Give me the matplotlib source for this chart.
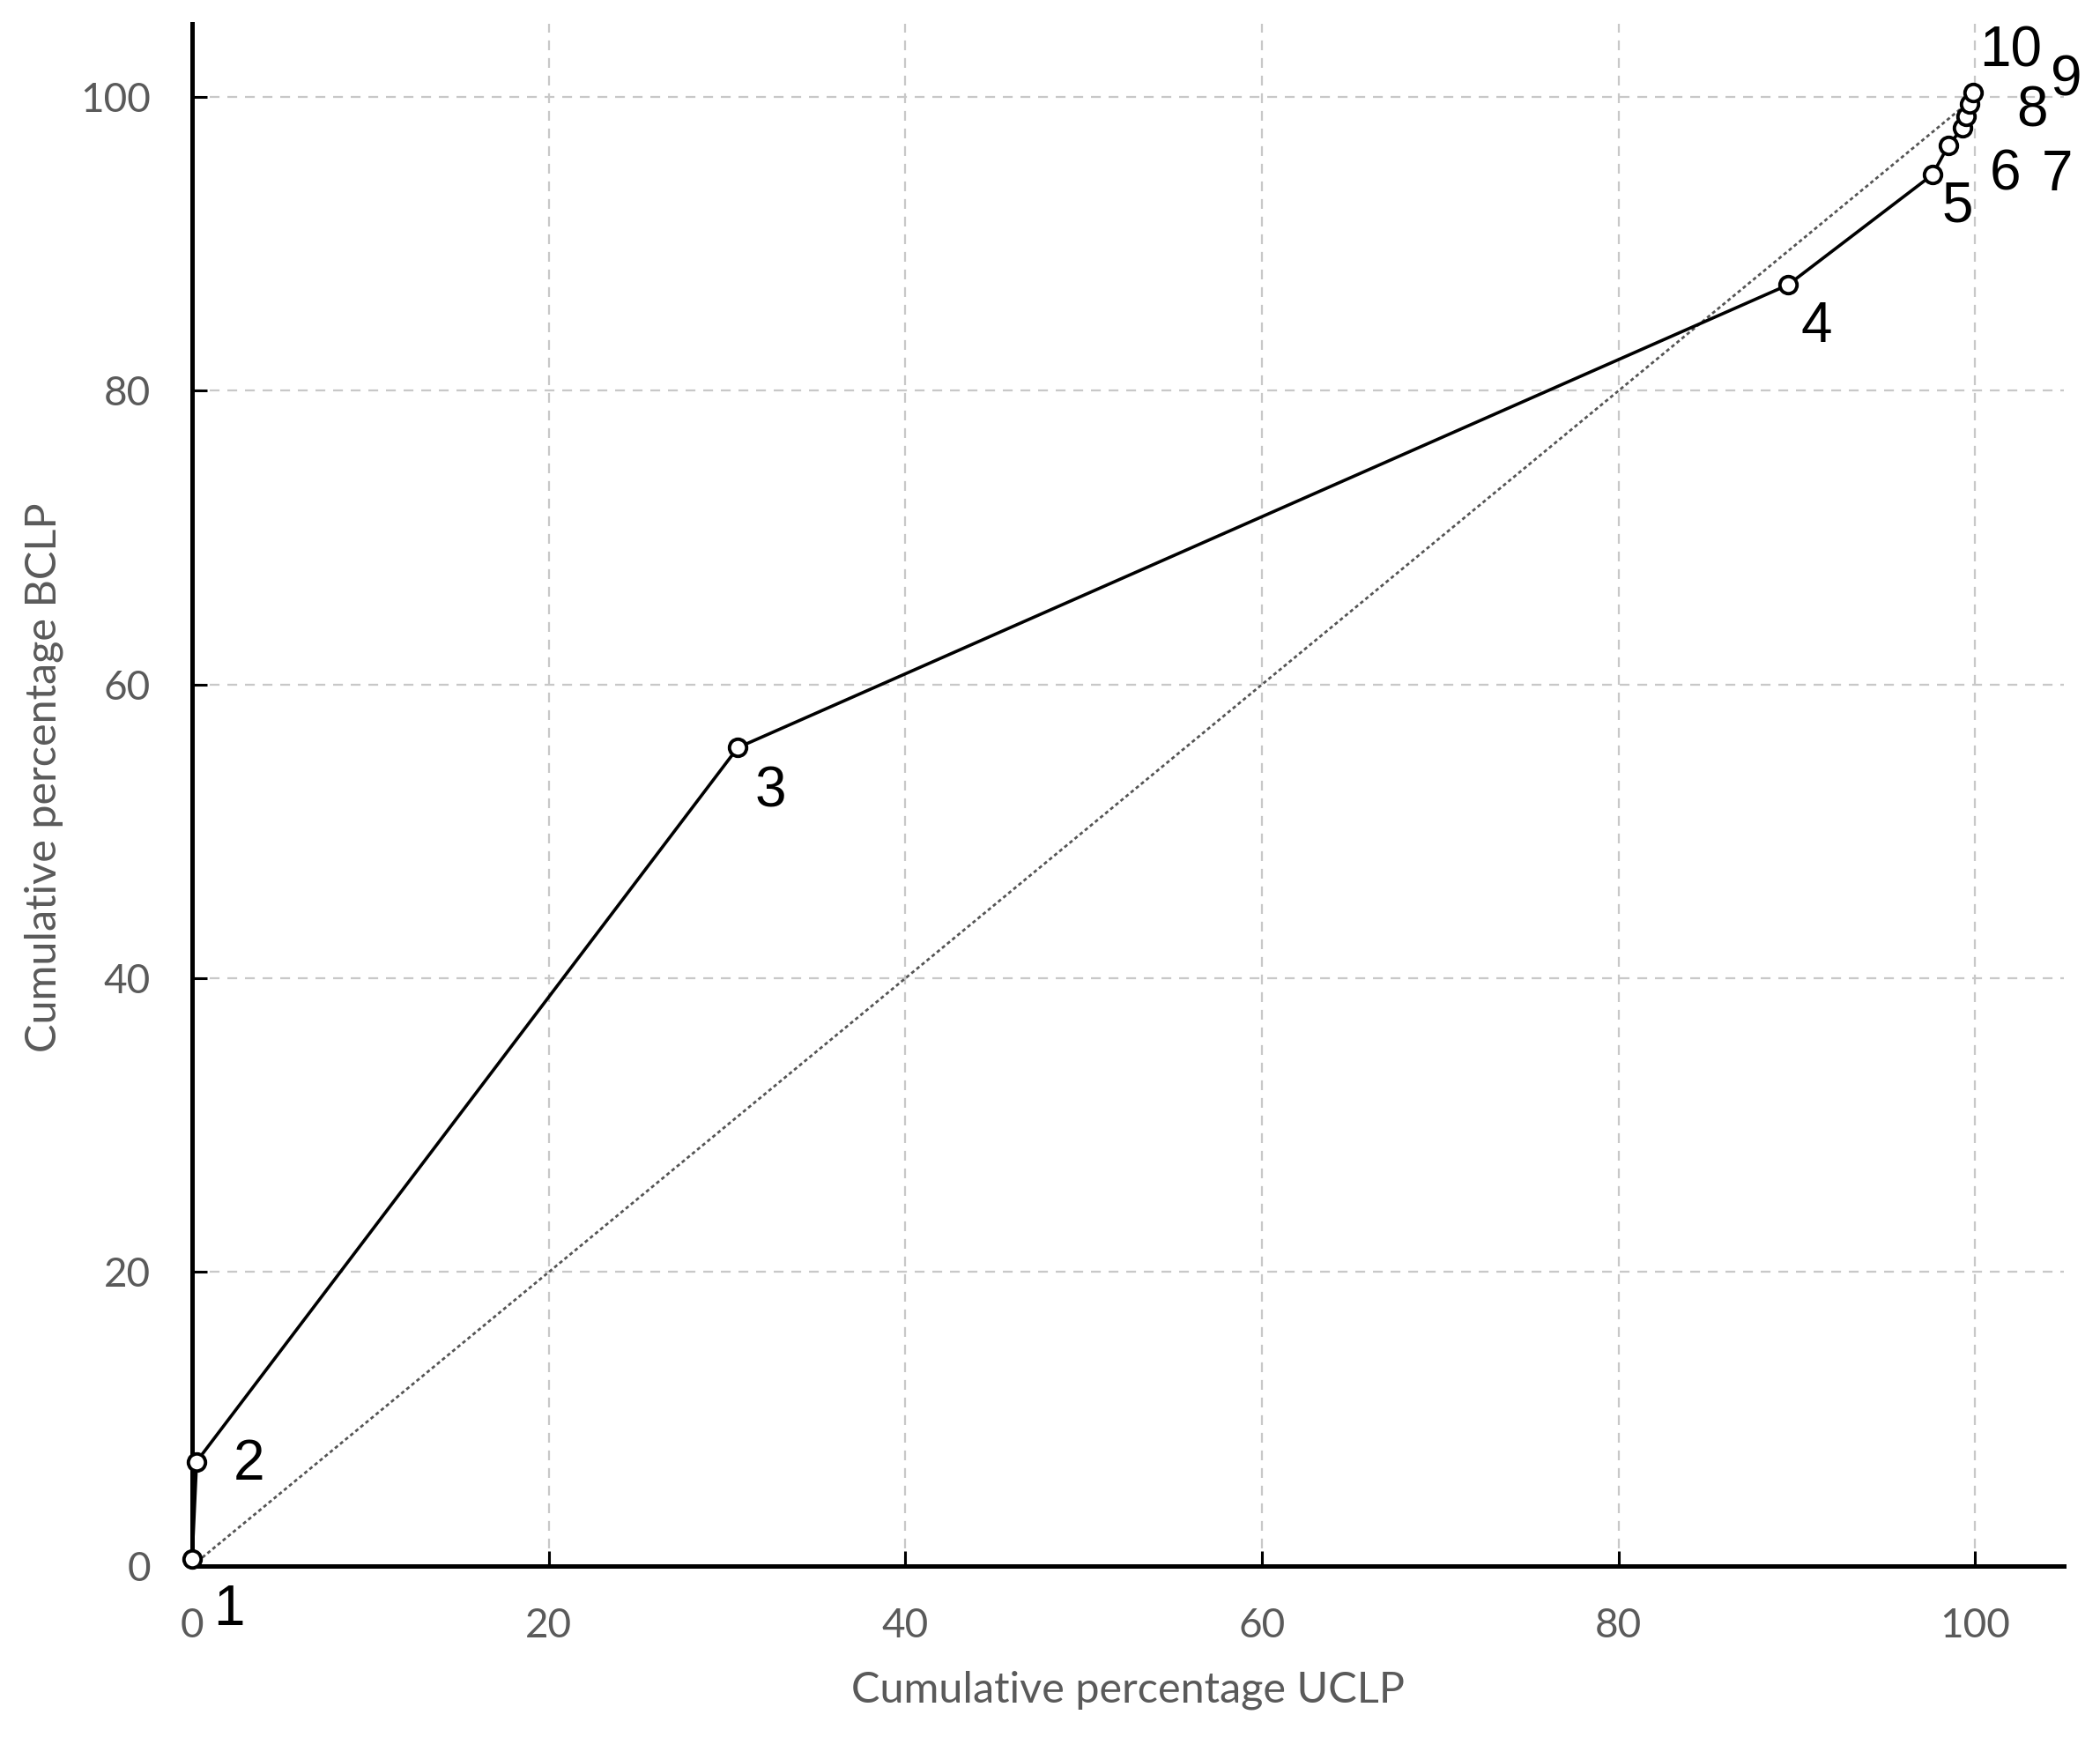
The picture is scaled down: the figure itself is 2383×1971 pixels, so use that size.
import matplotlib
matplotlib.use("Agg")
import matplotlib.pyplot as plt

# cumulative percentages
uclp = [0.0, 0.25, 30.6, 89.5, 97.6, 98.5, 99.3, 99.5, 99.7, 99.9]
bclp = [0.5, 7.1, 55.7, 87.2, 94.7, 96.7, 97.9, 98.7, 99.5, 100.3]
point_labels = ["1", "2", "3", "4", "5", "6", "7", "8", "9", "10"]
# label offsets in pixels from each point
label_offsets = [(42, -58), (59, -3), (37, -50), (32, -48), (28, -36),
                 (65, -34), (107, -54), (75, 5), (109, 27), (42, 46)]
ticks = [0, 20, 40, 60, 80, 100]

fig = plt.figure(figsize=(23.83, 19.71), dpi=100)
ax = fig.add_axes([0.0915, 0.0985, 0.8915, 0.888])

tick_font = "Lato"
grey = "#5a5a5a"

ax.plot([0, 100], [0, 100], color="#555555", lw=2.0, linestyle=(0, (1.5, 1.2)), zorder=2)
ax.plot(uclp, bclp, color="black", lw=2.6, marker="o", markersize=14,
        markerfacecolor="white", markeredgecolor="black", markeredgewidth=2.8,
        clip_on=False, zorder=4)

for x, y, lab, off in zip(uclp, bclp, point_labels, label_offsets):
    ax.annotate(lab, (x, y), xytext=off, textcoords="offset pixels",
                ha="center", va="center", fontsize=46, family="Liberation Sans",
                color="black", annotation_clip=False, zorder=5)

ax.set_xlim(0, 105)
ax.set_ylim(0, 105)
ax.set_xticks(ticks)
ax.set_yticks(ticks)
ax.grid(True, color="#c8c8c8", lw=1.6, linestyle=(0, (5, 4)), zorder=0)
ax.set_axisbelow(True)

for s in ["top", "right"]:
    ax.spines[s].set_visible(False)
for s in ["left", "bottom"]:
    ax.spines[s].set_linewidth(3.6)
    ax.spines[s].set_color("black")

ax.tick_params(direction="in", length=12, width=2.2, color="black",
               labelsize=33, labelcolor=grey, pad=34)
for t in ax.get_xticklabels() + ax.get_yticklabels():
    t.set_family(tick_font)

ax.set_xlabel("Cumulative percentage UCLP", fontsize=35, family=tick_font,
              color=grey, va="center")
ax.xaxis.set_label_coords(0.5, -0.0806)
ax.set_ylabel("Cumulative percentage BCLP", fontsize=35, family=tick_font,
              color=grey, va="center", ha="center")
ax.yaxis.set_label_coords(-0.079, 0.511)

fig.savefig("out.png", dpi=100)
